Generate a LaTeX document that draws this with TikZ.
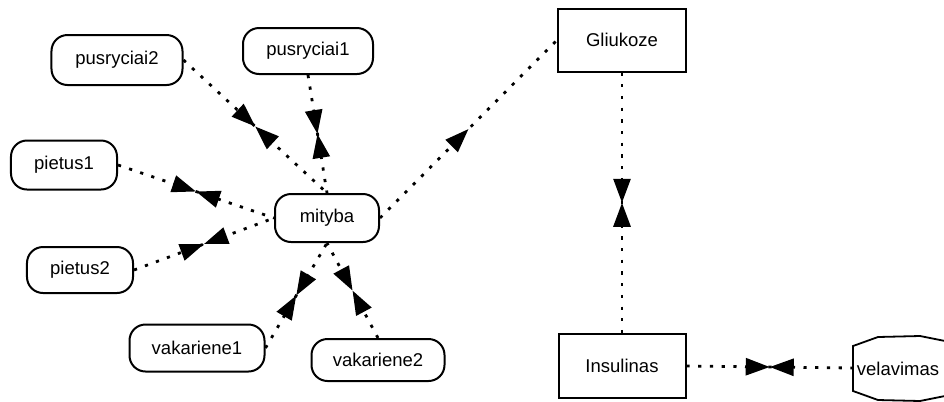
\documentclass[tikz,border=0pt]{standalone}
\usepackage{fontspec}
\setmainfont{Liberation Sans}
\usetikzlibrary{arrows.meta,decorations.markings}

\begin{document}
\begin{tikzpicture}[x=1bp,y=-1bp,
  every node/.style={font=\fontsize{18.5bp}{22bp}\selectfont, inner sep=0pt},
  pill/.style={draw, line width=2bp, rounded corners=16bp},
  box/.style={draw, line width=2bp},
  link/.style={line width=2.8bp, dash pattern=on 3.2bp off 8.5bp},
  tri/.tip={Triangle[length=24bp,width=17bp]},
  bowtie/.style={link, postaction={decorate}, decoration={markings,
      mark=at position 0.5 with {\arrow{tri}\arrowreversed{tri}}}},
  midarrow/.style={link, postaction={decorate}, decoration={markings,
      mark=at position 0.5 with {\arrow{tri}}}}]
  \useasboundingbox (0,0) rectangle (944,401);

  % meal nodes around the central one
  \node[pill, minimum width=131bp, minimum height=50bp] (p2) at (117,60) {pusryciai2};
  \node[pill, minimum width=130bp, minimum height=46bp] (p1) at (308,51) {pusryciai1};
  \node[pill, minimum width=106bp, minimum height=49bp] (pt1) at (64,165) {pietus1};
  \node[pill, minimum width=104bp, minimum height=48bp] (m) at (327,218) {mityba};
  \node[pill, minimum width=106bp, minimum height=46bp] (pt2) at (80,270) {pietus2};
  \node[pill, minimum width=135bp, minimum height=47bp] (v1) at (197,348) {vakariene1};
  \node[pill, minimum width=133bp, minimum height=42bp] (v2) at (378,360) {vakariene2};

  % glucose / insulin
  \node[box, minimum width=128bp, minimum height=63bp] (g) at (622,40) {Gliukoze};
  \node[box, minimum width=127bp, minimum height=64bp] (ins) at (622,366) {Insulinas};

  % hexagonal node on the right edge; its right part runs off the page
  \draw[line width=1.8bp] (853,346) -- (878,337) -- (920,336) -- (1000,352)
        -- (1000,385) -- (920,401) -- (878,400) -- (853,391) -- cycle;
  \node (vel) at (898,369) {velavimas};
  \coordinate (velw) at (853,368);

  % connectors
  \draw[bowtie] (p2.east) -- (m.north);
  \draw[bowtie] (p1.south) -- (m.north);
  \draw[bowtie] (pt1.east) -- (m.west);
  \draw[bowtie] (pt2.east) -- (m.west);
  \draw[bowtie] (v1.east) -- (m.south);
  \draw[bowtie] (v2.north) -- (m.south);
  \draw[midarrow] (m.east) -- (g.west);
  \draw[bowtie] (g.south) -- (ins.north);
  \draw[bowtie] (ins.east) -- (velw);
\end{tikzpicture}
\end{document}
